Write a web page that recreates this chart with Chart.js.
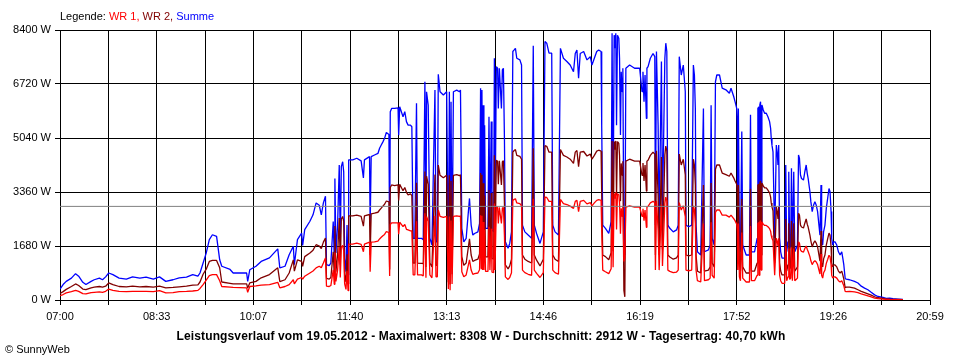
<!DOCTYPE html>
<html><head><meta charset="utf-8">
<script src="https://cdn.jsdelivr.net/npm/chart.js@4.4.1/dist/chart.umd.min.js"></script>
<style>
html,body{margin:0;padding:0;background:#fff;}
#wrap{position:relative;width:960px;height:360px;font-family:"Liberation Sans",Arial,sans-serif;font-size:11px;color:#000;overflow:hidden;}
#c{position:absolute;left:0;top:0;}
.t{position:absolute;white-space:nowrap;line-height:13px;}
</style></head><body>
<div id="wrap">
<canvas id="c" width="960" height="360"></canvas>
<div class="t" style="left:60px;top:10px">Legende: <span style="color:#ff0000">WR 1,</span> <span style="color:#800000">WR 2,</span> <span style="color:#0000ff">Summe</span></div>
<div class="t" style="left:0;width:962px;text-align:center;top:330px;font-weight:bold;font-size:12px;letter-spacing:0.12px">Leistungsverlauf vom 19.05.2012 - Maximalwert: 8308 W - Durchschnitt: 2912 W - Tagesertrag: 40,70 kWh</div>
<div class="t" style="left:5px;top:343px">© SunnyWeb</div>
</div>
<script>
// time of day in minutes since midnight
const times = [
420,423,426,431,435,438,442,445,450,453,458,461,464,467,471,477,484,490,497,503,510,516,522,529,535,542,548,553,555,558,561,564,567,571,574,576,584,587,600,601,603,609,614,622,630,632,637,641,645,646,649,653,654,656,661,664,667,670,672,674,676,
677.0,679.6,681.2,683.5,684.5,685.1,686.1,687.7,689.3,690.3,691.3,692.6,693.6,694.5,695.8,696.8,697.8,698.4,702.3,706.2,710.4,712.6,713.6,718.5,719.1,720.1,723.3,726.6,728.2,729.8,731.4,733.0,734.7,737.2,737.9,738.5,739.8,742.7,746.0,746.6,747.6,750.8,752.5,754.1,755.7,758.0,759.3,760.6,762.2,763.8,764.8,768.6,770.3,771.9,772.9,773.5,775.1,776.7,778.7,781.6,782.6,783.9,784.8,786.5,789.7,792.9,794.5,795.5,796.2,797.1,798.1,799.4,802.6,805.2,
806.2,807.5,809.4,811.7,814.9,816.5,818.1,819.8,823.0,824.6,825.6,826.2,826.9,827.5,828.2,828.8,829.5,830.4,832.7,833.7,834.6,835.9,836.6,838.2,838.9,839.5,840.8,842.0,842.7,843.7,845.7,846.6,847.6,848.6,849.5,852.1,853.7,855.4,856.7,858.0,859.2,860.5,863.5,865.1,866.0,868.3,871.5,874.8,876.4,877.4,879.6,882.9,886.1,887.7,889.4,891.6,894.2,895.2,897.4,900.7,902.6,905.5,908.8,912.0,915.2,916.9,918.5,920.1,921.7,925.0,928.2,931.4,
933.0,935.3,937.6,939.5,941.8,942.4,943.4,946.0,949.2,951.5,952.4,953.4,954.4,955.0,956.0,956.7,957.6,958.9,959.6,960.5,961.2,962.2,962.8,963.8,964.7,965.7,969.3,974.1,979.0,981.3,982.2,983.2,984.2,985.5,986.0,987.1,989.3,991.9,993.6,994.2,995.2,996.8,997.8,1000.0,1001.0,1003.3,1004.2,1005.2,1006.2,1008.1,1011.4,1014.6,1016.2,1017.2,1019.1,1021.1,1023.0,1023.7,1026.3,1029.2,1030.8,1031.8,1032.7,1033.4,1034.7,1037.9,1040.5,1041.5,1045.3,1047.0,1047.9,1048.9,1050.9,1052.1,1053.4,1056.0,1058.6,
1062.2,1065.5,1067.1,1069.7,1071.0,1072.6,1073.2,1073.6,1074.2,1075.2,1076.2,1077.5,1078.4,1081.7,1084.9,1085.9,1086.8,1089.8,1092.3,1093.0,1094.0,1094.4,1094.9,1095.6,1096.2,1096.9,1098.2,1099.5,1101.1,1102.7,1104.3,1105.3,1105.9,1106.6,1107.6,1109.2,1110.8,1111.8,1112.4,1113.1,1114.0,1115.0,1116.3,1118.9,1119.9,1120.8,1122.1,1122.8,1123.7,1124.7,1125.4,1126.3,1127.6,1128.6,1129.9,1131.2,1132.2,1133.1,1134.1,1135.1,1137.0,1138.3,1139.6,1140.6,1141.5,1143.2,1144.1,1145.4,1146.7,1148.0,1149.3,1150.6,1151.9,1152.9,1153.9,1154.5,1155.5,1156.4,1157.7,1159.0,1160.3,1161.6,1162.6,1163.6,1164.2,1165.2,1166.2,1167.4,1169.1,1170.7,1172.3,1173.9,1174.9,1175.9,1177.2,
1178.2,1181.4,1186.2,1189.5,1192.7,1195.9,1199.1,1202.3,1205.6,1208.8,1213.6,1216.8,1220.0,1223.3,1228.1,1232.9
];
// Summe (W)
const summe = [
340,480,580,680,820,740,550,480,580,630,680,630,720,840,790,680,650,720,680,710,650,720,580,630,690,710,790,740,840,1150,1460,1880,2030,1980,1250,1050,950,840,840,580,940,1050,1200,1310,1590,1000,1050,1410,1670,1100,1880,2080,1700,2190,2450,2650,3020,2950,2650,3020,3230,
1100,1070,1150,2440,1250,3780,1460,2330,4200,1800,4150,4300,3990,1300,880,2330,780,4360,4360,4410,4330,3800,4360,4460,2300,4460,4510,4560,4720,4820,4920,5030,5210,5150,1700,5860,5960,5960,5980,5130,6010,5700,5860,5550,5440,5440,5390,1920,1920,6120,1920,1920,1870,6790,1710,6480,6060,1920,1710,6530,1810,1810,7020,6480,6380,6480,880,6480,770,6170,1300,6480,6530,6480,
6530,2230,1810,1920,3160,2330,2020,2070,2120,2380,6590,2480,6530,2330,6060,2330,5440,2230,2230,5700,2330,5550,2180,2120,7520,2330,7260,7210,5960,7210,5960,7160,7210,5030,1810,1610,1760,2120,7730,7780,7830,7520,7470,7310,2330,2120,2020,1920,7910,2330,2070,1760,2120,8040,7990,7680,7680,2330,2120,2020,7830,7520,7420,7310,7100,7670,7780,6900,7670,7730,7470,7570,
7310,7520,7730,7780,7730,5440,2330,2230,2070,2440,8300,2540,8240,7830,8300,5440,8240,8140,7520,5130,7100,6480,7210,1500,1400,7210,7310,7210,7210,6480,7100,6170,7000,5650,7210,7260,7520,7670,7570,2330,7730,5440,2330,7420,2640,7520,7990,7730,2330,2230,2120,2180,2330,7570,7000,7310,6480,2330,2280,2330,7310,7000,5960,2330,1500,1400,5960,1500,1560,1710,6060,1920,1710,6790,7000,7000,6590,
6540,6430,6590,6330,6170,5960,5440,2330,5960,1810,1500,5240,1710,1400,1400,5760,1500,1500,1920,5960,6010,1920,6070,6170,2330,6070,5910,5810,5810,5700,5550,5340,5030,4820,4610,1920,4820,4510,4200,4820,1920,1500,1300,1300,4200,1500,1810,3990,1600,1710,4100,1500,3990,1500,1600,1710,4510,4410,3890,3780,3730,3990,4200,3940,3780,3370,3060,2750,2950,3060,2950,2750,2330,2020,3580,1920,1710,2130,2330,2850,3160,3470,3370,2750,1920,1710,1810,1810,1710,1500,1400,1500,1300,1090,670,
650,630,580,530,430,370,320,240,160,110,80,50,60,40,30,20
];
// WR 2 (W)
const wr2 = [
200,260,330,420,500,450,340,320,380,400,420,400,430,530,480,420,410,430,410,420,400,430,380,390,410,430,460,470,560,800,960,1200,1230,1230,1000,560,520,500,500,370,530,580,690,790,1000,570,630,840,1250,900,1250,1200,1050,1350,1460,1550,1720,1680,1600,1800,1930,
670,650,700,1500,760,2300,880,1400,2550,1100,2520,2600,2450,800,560,1420,500,2620,2620,2640,2600,2300,2620,2660,1400,2680,2700,2730,2800,2860,2920,2980,3080,3050,950,3500,3580,3560,3580,3100,3600,3400,3500,3350,3270,3300,3250,1150,1150,3650,1150,1140,1130,4000,1030,3850,3600,1150,1030,3900,1080,1080,4200,3880,3800,3880,550,3880,480,3700,800,3880,3900,3870,
3900,1350,1080,1150,1900,1400,1200,1230,1270,1430,3950,1500,3900,1400,3630,1400,3250,1340,1340,3420,1400,3330,1300,1270,4500,1400,4350,4320,3600,4330,3580,4300,4330,3000,1090,970,1060,1270,4600,4650,4680,4500,4470,4380,1400,1270,1200,1150,4720,1400,1240,1060,1270,4800,4780,4600,4600,1400,1270,1200,4680,4500,4450,4380,4250,4600,4650,4150,4600,4620,4480,4540,
4380,4500,4630,4660,4630,3300,1400,1350,1250,1470,4950,1520,4930,4680,4950,3250,4930,4870,4500,3070,4250,3880,4320,300,100,4320,4380,4320,4320,3880,4260,3700,4200,3390,4320,4350,4500,4600,4540,1400,4640,3260,1400,4450,1580,4510,4790,4640,1400,1340,1270,1310,1400,4540,4200,4380,3890,1400,1370,1400,4380,4200,3580,1400,900,840,3580,900,930,1030,3640,1150,1030,4070,4200,4200,3950,
3900,3850,3950,3800,3700,3600,3300,1400,3580,1090,900,3140,1030,840,840,3460,900,900,1150,3580,3600,1150,3640,3700,1400,3640,3550,3490,3490,3420,3330,3200,3020,2900,2770,1150,2900,2710,2520,2900,1150,900,780,780,2520,900,1090,2390,960,1030,2460,900,2390,900,960,1030,2700,2640,2330,2270,2240,2390,2520,2360,2270,2020,1840,1650,1770,1840,1770,1650,1400,1210,2150,1150,1030,1280,1400,1710,1900,2080,2020,1650,1150,1030,1090,1090,1030,900,840,900,780,650,380,
400,400,370,320,270,230,190,150,100,70,50,30,25,20,15,10
];
// WR 1 (W)
const wr1 = [
135,170,220,260,300,270,200,190,230,240,250,240,270,340,300,270,260,270,270,270,260,290,220,230,260,270,280,300,360,480,620,760,790,790,600,420,400,390,380,240,420,440,460,480,550,380,420,480,630,500,650,700,650,740,840,900,1000,1050,1000,1150,1310,
430,420,450,940,490,1480,580,930,1650,700,1630,1700,1540,500,330,910,290,1740,1740,1770,1730,1500,1740,1800,880,1800,1810,1830,1900,1950,2000,2040,2130,2100,750,2350,2400,2400,2400,2050,2420,2280,2350,2200,2180,2150,2150,780,780,2450,780,780,750,2700,690,2600,2450,780,690,2620,720,720,2800,2600,2570,2600,340,2600,300,2470,500,2600,2620,2600,
2620,880,720,780,1250,930,800,820,840,940,2640,980,2620,930,2430,930,2180,890,890,2280,930,2220,870,850,3000,930,2900,2880,2380,2880,2380,2860,2880,2000,720,640,700,850,3100,3130,3150,3020,3000,2930,930,850,800,770,3150,930,830,700,850,3200,3190,3070,3070,930,850,800,3130,3000,2970,2920,2850,3070,3100,2750,3070,3100,2990,3030,
2930,3020,3100,3120,3100,2140,930,880,820,970,3350,1020,3310,3150,3350,2190,3310,3270,3020,2060,2850,2600,2890,1200,1300,2890,2930,2890,2890,2600,2840,2470,2800,2260,2890,2910,3020,3070,3030,930,3090,2180,930,2970,1060,3010,3200,3090,930,890,850,870,930,3030,2800,2930,2590,930,910,930,2930,2800,2380,930,600,560,2380,600,630,680,2420,770,680,2720,2800,2800,2640,
2640,2580,2640,2530,2470,2360,2140,930,2380,720,600,2100,680,560,560,2300,600,600,770,2380,2410,770,2430,2470,930,2430,2360,2320,2320,2280,2220,2140,2010,1920,1840,770,1920,1800,1680,1920,770,600,520,520,1680,600,720,1600,640,680,1640,600,1600,600,640,680,1810,1770,1560,1510,1490,1600,1680,1580,1510,1350,1220,1100,1180,1220,1180,1100,930,810,1430,770,680,850,930,1140,1260,1390,1350,1100,770,680,720,720,680,600,560,600,520,440,270,
260,270,250,230,190,160,130,100,60,45,30,20,15,12,10,5
];
const durchschnitt = 2912;
const xTickLabels = ['07:00','08:33','10:07','11:40','13:13','14:46','16:19','17:52','19:26','20:59'];
const yTicks = [0,1680,3360,5040,6720,8400];

const toMin = s => { const p = s.split(':').map(Number); return p[0]*60 + p[1]; };
const xMin = toMin(xTickLabels[0]);
const xMax = toMin(xTickLabels[xTickLabels.length-1]);
const gridCount = (xTickLabels.length - 1) * 2;
const pts = arr => times.map((t, i) => ({x: t, y: arr[i]}));

Chart.defaults.font.family = "'Liberation Sans', Arial, sans-serif";
Chart.defaults.font.size = 11;
Chart.defaults.color = '#000';

const gridOpts = {color:'#000', lineWidth:1, tickLength:5, drawTicks:true, tickColor:'#000'};

new Chart(document.getElementById('c'), {
  type: 'line',
  data: { datasets: [
    {label:'Durchschnitt', data:[{x:xMin,y:durchschnitt},{x:xMax,y:durchschnitt}], borderColor:'#808080', borderWidth:1, order:0},
    {label:'WR 1', data:pts(wr1), borderColor:'#ff0000', order:1},
    {label:'WR 2', data:pts(wr2), borderColor:'#800000', order:2},
    {label:'Summe', data:pts(summe), borderColor:'#0000ff', order:3}
  ]},
  options: {
    responsive:false, animation:false, events:[],
    elements:{ line:{borderWidth:1.3, tension:0, borderJoinStyle:'bevel', fill:false}, point:{radius:0} },
    layout:{ padding:{left:0, top:30, right:30, bottom:0} },
    plugins:{ legend:{display:false}, tooltip:{enabled:false}, title:{display:false} },
    scales:{
      x:{
        type:'linear', min:xMin, max:xMax,
        afterBuildTicks: s => { s.ticks = Array.from({length:gridCount+1}, (_, k) => ({value: xMin + (xMax - xMin) * k / gridCount})); },
        afterFit: s => { s.height = 60; },
        ticks:{ autoSkip:false, maxRotation:0, minRotation:0, padding:5, color:'#000',
          callback:(v, i) => (i % 2 === 0 ? xTickLabels[i / 2] : '') },
        grid: gridOpts,
        border:{color:'#000', width:1}
      },
      y:{
        min:0, max:8400,
        afterBuildTicks: s => { s.ticks = yTicks.map(v => ({value:v})); },
        afterFit: s => { s.width = 60; },
        ticks:{ padding:4, color:'#000', callback: v => v + ' W' },
        grid: gridOpts,
        border:{color:'#000', width:1}
      }
    }
  }
});
</script>
</body></html>
